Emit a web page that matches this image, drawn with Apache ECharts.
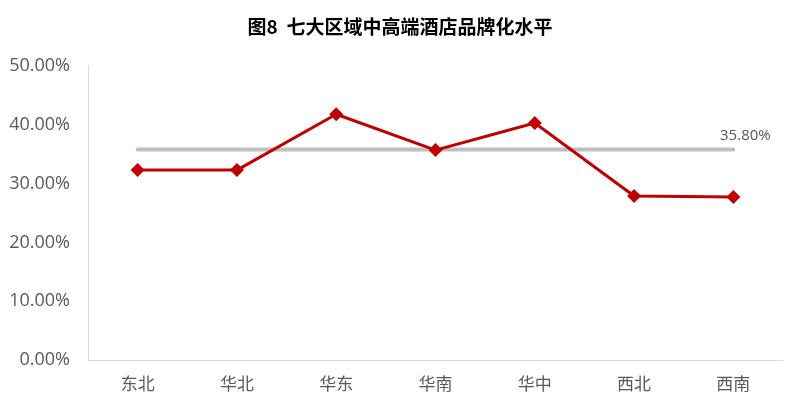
<!DOCTYPE html>
<html><head><meta charset="utf-8">
<script src="https://cdn.jsdelivr.net/npm/echarts@6/dist/echarts.min.js"></script>
<style>html,body{margin:0;padding:0;background:#fff}#c{width:800px;height:412px}</style>
</head><body><div id="c"></div>
<script>
const categories = ['东北','华北','华东','华南','华中','西北','西南'];
const brandRate = [32.3, 32.3, 41.8, 35.7, 40.3, 27.9, 27.7];
const averageRate = [35.8, 35.8, 35.8, 35.8, 35.8, 35.8, 35.8];
const yTicks = [0, 10, 20, 30, 40, 50];

const chart = echarts.init(document.getElementById('c'));
chart.setOption({
  animation: false,
  title: {
    text: '图8  七大区域中高端酒店品牌化水平',
    left: 'center', top: 12,
    textStyle: {fontFamily: 'Noto Sans CJK SC', fontSize: 19, fontWeight: 'bold', color: '#000'}
  },
  grid: {left: 88, right: 17, top: 66, bottom: 52},
  xAxis: {
    type: 'category', data: categories, boundaryGap: true,
    axisLine: {lineStyle: {color: '#d9d9d9', width: 1}},
    axisTick: {show: false},
    axisLabel: {color: '#595959', fontSize: 17, fontFamily: 'Noto Sans CJK SC', margin: 15}
  },
  yAxis: {
    type: 'value', min: yTicks[0], max: yTicks[yTicks.length-1], interval: 10,
    axisLine: {show: true, lineStyle: {color: '#d9d9d9', width: 1}},
    axisTick: {show: false},
    splitLine: {show: false},
    axisLabel: {color: '#595959', fontSize: 18, fontFamily: 'Open Sans', margin: 18,
      formatter: v => v.toFixed(2) + '%'}
  },
  series: [
    {
      name: '平均', type: 'line',
      data: averageRate.map((v, i) => i === averageRate.length - 1
        ? {value: v, label: {show: true}}
        : {value: v}),
      symbol: 'circle', symbolSize: 1, showSymbol: true,
      itemStyle: {color: 'rgba(0,0,0,0)'},
      lineStyle: {color: '#bfbfbf', width: 4, cap: 'round'},
      label: {show: false, position: 'top', offset: [12, -1], color: '#595959', fontSize: 15, fontFamily: 'Open Sans',
        formatter: p => p.value.toFixed(2) + '%'},
      z: 1
    },
    {
      name: '品牌化水平', type: 'line', data: brandRate,
      symbol: 'diamond', symbolSize: 14,
      itemStyle: {color: '#c00000'},
      lineStyle: {color: '#c00000', width: 3},
      z: 3
    }
  ]
});
</script></body></html>
